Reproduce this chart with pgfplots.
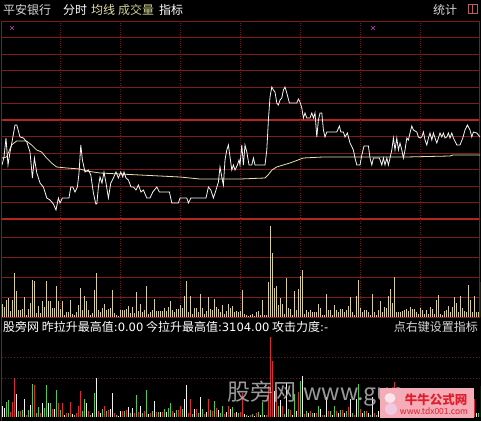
\documentclass[border=0pt]{standalone}
\usepackage{pgfplots}
\pgfplotsset{compat=1.18}
\usepackage{pgfplotstable}
\usepackage{fontspec}
\setmainfont{Noto Sans CJK SC}
\newfontfamily\numfont{DejaVu Sans}

\definecolor{gridred}{RGB}{125,28,28}
\definecolor{griddot}{RGB}{105,26,26}
\definecolor{gridbright}{RGB}{180,36,36}
\definecolor{priceline}{RGB}{245,245,245}
\definecolor{avgline}{RGB}{232,224,170}
\definecolor{volbar}{RGB}{214,206,150}
\definecolor{upred}{RGB}{215,45,45}
\definecolor{downgreen}{RGB}{80,200,80}
\definecolor{flatwhite}{RGB}{240,240,240}
\definecolor{menugrey}{RGB}{215,215,215}
\definecolor{menuyellow}{RGB}{228,225,165}
\definecolor{menukhaki}{RGB}{205,205,145}
\definecolor{crossmag}{RGB}{190,60,190}
\definecolor{wmgrey}{RGB}{180,180,180}
\definecolor{logopink}{RGB}{244,172,182}
\definecolor{logored}{RGB}{225,30,45}
\definecolor{baseline}{RGB}{160,50,100}
\definecolor{iconred}{RGB}{185,95,95}

% minute price, relative to previous close (0 = mid line)
\pgfplotstableread{
m v
0 -45
1 -37
2 -18
3 -45
4 -32
5 -22
6.5 -5
7.4 -5
9 -17
10.7 -18
11.5 -20
12.4 -22
14 -32
15.2 -58
16.2 -38
17.4 -53
19 -63
20.7 -67
22.4 -78
24 -80
25.7 -84
27 -90
28.2 -78
29 -83
30.2 -78
32.4 -78
33.5 -78
34.4 -67
35.4 -67
36.5 -72
37.7 -67
38.5 -53
39.4 -25
40.2 -40
41.5 -52
43.2 -50
44.4 -55
45.7 -73
46.9 -84
47.4 -84
48.2 -67
49 -57
50 -63
51 -52
52 -63
53.2 -78
54.4 -63
55.7 -58
57 -52
58.2 -58
59.4 -52
60.4 -57
61 -52
62 -58
63.2 -60
64.5 -67
65.7 -67
67 -70
68.2 -65
69.5 -72
70.7 -70
72.4 -78
74 -78
75.4 -72
77.4 -67
78.7 -72
83.7 -72
84.9 -83
88.2 -83
89 -78
92.4 -78
93.2 -83
94.4 -78
102 -78
103.2 -67
104.4 -70
105.7 -78
107 -70
108.2 -62
109 -47
109.9 -57
110.7 -65
111.5 -40
112.4 -30
113.2 -25
114 -37
114.9 -50
115.7 -45
116.5 -50
117.7 -45
118.5 -40
119 -45
119.9 -25
120.7 -45
121.5 -25
122.4 -32
123.5 -45
124.9 -45
125.7 -38
126.5 -45
131.5 -45
132.4 -30
133.2 0
134 23
134.9 33
135.7 30
136.5 28
137.4 17
138.2 15
139 20
139.9 22
140.7 30
141.5 33
142.4 27
143.7 17
147.4 17
148.2 21
149 18
149.9 12
150.7 2
151.5 7
152.4 2
154 2
154.9 7
155.7 2
156.5 7
157.4 -17
158.2 0
159 7
159.9 7
160.7 -10
161.5 -17
162.4 -12
167.4 -12
168.7 -6
169.4 -12
170.7 -12
171.5 -17
172.7 -13
174 -23
175.7 -30
176.5 -38
177.4 -45
179 -45
179.9 -35
181 -26
183.2 -26
184 -38
184.9 -45
185.7 -38
188.7 -38
189.9 -45
190.7 -38
191.5 -45
192.4 -38
193.2 -45
194 -38
194.9 -30
195.7 -18
196.5 -30
197.4 -18
198.2 -30
199 -23
199.9 -30
200.7 -38
201.5 -30
202.4 -18
203.2 -20
204 -13
204.9 -6
205.7 -10
207.4 -12
208.2 -17
209 -18
209.9 -17
210.7 -12
211.5 -20
212.4 -25
213.2 -18
214 -13
214.9 -20
215.7 -13
216.5 -18
217.4 -23
218.2 -18
219 -13
219.9 -17
220.7 -13
221.5 -18
222.4 -17
223.2 -13
224 -18
224.9 -13
225.7 -18
227.4 -25
229 -25
230.4 -18
231.5 -10
232.7 -5
234 -10
234.9 -17
235.7 -12
237.4 -13
239 -17
}\pricedata

% running average price
\pgfplotstableread{
m v
0 -38
2.3 -37
4.8 -25
7.3 -21
12.3 -21
14.8 -25
17.3 -30
19.8 -32
22.3 -38
24.8 -43
27.3 -47
32.3 -48
39 -49
42.3 -51
49 -53
59 -54
69 -55
79 -56
89 -57
99 -59
119 -59
131.5 -58
133 -55
135 -50
137.3 -47
140.6 -45
144 -43
148 -40
150.6 -38
160.5 -37
174 -37
202 -37
224 -36
225.5 -35
239 -35
}\avgdata

% per-minute volume; dir: 1 up, -1 down, 0 unchanged
\pgfplotstableread{
m vol dir
0 13 0
1 10 0
2 17 -1
3 19 -1
4 6 1
5 17 1
6 44 1
7 26 0
8 7 -1
9 7 1
10 8 -1
11 20 0
12 2 1
13 8 -1
14 14 0
15 37 -1
16 36 1
17 4 -1
18 11 -1
19 4 1
20 16 0
21 10 -1
22 36 -1
23 16 0
24 16 -1
25 9 1
26 9 0
27 31 -1
28 16 1
29 8 -1
30 16 1
31 2 0
32 5 1
33 5 -1
34 17 1
35 3 0
36 2 -1
37 5 1
38 12 1
39 29 1
40 7 -1
41 21 -1
42 16 0
43 7 1
44 2 -1
45 4 0
46 27 -1
47 44 0
48 7 1
49 5 0
50 9 -1
51 13 1
52 7 -1
53 8 1
54 9 0
55 27 0
56 4 1
57 2 -1
58 1 0
59 7 0
60 7 1
61 7 -1
62 8 1
63 11 0
64 4 -1
65 10 0
66 4 1
67 25 -1
68 6 1
69 13 0
70 5 -1
71 7 1
72 31 -1
73 3 0
74 5 1
75 7 -1
76 18 0
77 6 1
78 6 -1
79 6 0
80 6 1
81 9 -1
82 6 0
83 10 -1
84 16 -1
85 7 1
86 5 0
87 8 -1
88 8 1
89 12 1
90 9 -1
91 21 0
92 36 0
93 5 1
94 21 1
95 3 -1
96 9 0
97 9 1
98 5 -1
99 23 0
100 9 -1
101 3 1
102 6 0
103 20 1
104 8 -1
105 7 1
106 18 -1
107 10 1
108 8 0
109 5 -1
110 12 -1
111 3 1
112 6 0
113 13 1
114 9 0
115 11 -1
116 5 1
117 6 0
118 5 -1
119 6 1
120 27 1
121 3 0
122 2 -1
123 1 0
124 2 1
125 3 -1
126 1 0
127 5 1
128 6 -1
129 2 0
130 17 -1
131 2 0
132 2 1
133 35 1
134 91 1
135 64 1
136 29 0
137 31 1
138 12 -1
139 19 0
140 13 1
141 3 -1
142 39 0
143 9 -1
144 8 1
145 2 0
146 26 -1
147 7 0
148 28 1
149 41 -1
150 47 0
151 3 1
152 7 -1
153 5 0
154 7 1
155 5 -1
156 5 0
157 5 1
158 13 -1
159 9 0
160 2 1
161 2 -1
162 23 0
163 7 1
164 7 -1
165 2 0
166 12 -1
167 7 1
168 5 0
169 8 -1
170 8 1
171 5 0
172 7 -1
173 11 1
174 20 0
175 5 -1
176 2 1
177 21 0
178 37 -1
179 9 1
180 5 0
181 7 -1
182 7 1
183 5 0
184 2 -1
185 23 0
186 5 1
187 2 -1
188 7 0
189 16 1
190 5 -1
191 10 0
192 9 1
193 21 0
194 28 -1
195 14 1
196 40 1
197 5 -1
198 5 0
199 5 1
200 6 -1
201 7 0
202 8 1
203 6 -1
204 10 0
205 8 1
206 8 -1
207 5 0
208 3 1
209 9 -1
210 7 0
211 3 1
212 7 -1
213 3 0
214 10 1
215 8 -1
216 3 0
217 17 -1
218 22 1
219 3 0
220 2 -1
221 6 1
222 7 0
223 11 -1
224 5 1
225 10 0
226 20 -1
227 14 1
228 5 0
229 21 -1
230 9 1
231 6 0
232 5 -1
233 32 1
234 17 0
235 5 -1
236 21 1
237 5 0
238 5 -1
239 35 -1
}\voldata

\pgfplotsset{
  panel/.style={
    scale only axis, width=478pt, xmin=0, xmax=239,
    hide axis, clip=true, anchor=south west,
  },
  vbar/.style={ycomb, no markers, line width=1pt},
}

\begin{document}
\begin{tikzpicture}[every node/.style={inner sep=0pt, font=\fontsize{12}{12}\selectfont}]
\fill[black] (0,0) rectangle (481pt,-421pt);

% horizontal grid of the price and volume panels
\foreach \y in {37.5,54,70.5,87,103.5,136.5,153,169.5,186,202.5,237,257,277,297,317}
  \draw[gridred, line width=0.8pt] (1.5pt,-\y pt) -- (479.5pt,-\y pt);
\draw[gridred, line width=0.9pt] (1.5pt,-21pt) -- (479.5pt,-21pt);
\draw[gridbright, line width=1.6pt] (1.5pt,-120pt) -- (479.5pt,-120pt);
\draw[gridbright, line width=1.6pt] (1.5pt,-219pt) -- (479.5pt,-219pt);
% half-hour separators
\foreach \x in {60,120,180,240,300,360,420}
  \draw[griddot, line width=0.5pt, dash pattern=on 0.8pt off 1.4pt] (\x pt,-21pt) -- (\x pt,-317pt);
% frame
\draw[gridred, line width=1pt] (1.5pt,-21pt) -- (1.5pt,-421pt);
\draw[gridred, line width=1pt] (479.5pt,-21pt) -- (479.5pt,-317pt);
% indicator panel guides
\foreach \y in {357,378}
  \draw[griddot, line width=0.6pt, dash pattern=on 1pt off 2pt] (1.5pt,-\y pt) -- (479.5pt,-\y pt);
\draw[baseline, line width=0.8pt] (1.5pt,-417.5pt) -- (479.5pt,-417.5pt);

% price panel
\begin{axis}[panel, at={(2pt,-219pt)}, height=198pt, ymin=-99, ymax=99]
  \addplot[avgline, line width=0.8pt] table[x=m, y=v] {\avgdata};
  \addplot[priceline, line width=0.8pt] table[x=m, y=v] {\pricedata};
\end{axis}

% volume panel
\begin{axis}[panel, at={(2pt,-317pt)}, height=98pt, ymin=0, ymax=98]
  \addplot[vbar, volbar] table[x=m, y=vol] {\voldata};
\end{axis}

% indicator panel: bars coloured by direction
\begin{axis}[panel, at={(2pt,-417pt)}, height=81pt, ymin=0, ymax=92]
  \addplot[vbar, flatwhite, restrict expr to domain={\thisrow{dir}}{-0.5:0.5}] table[x=m, y=vol] {\voldata};
  \addplot[vbar, upred, restrict expr to domain={\thisrow{dir}}{0.5:1.5}] table[x=m, y=vol] {\voldata};
  \addplot[vbar, downgreen, restrict expr to domain={\thisrow{dir}}{-1.5:-0.5}] table[x=m, y=vol] {\voldata};
\end{axis}

% menu bar
\node[anchor=west, text=menugrey] at (3pt,-10pt) {平安银行};
\node[anchor=west, text=white] at (63pt,-10pt) {分时};
\node[anchor=west, text=menuyellow] at (91pt,-10pt) {均线};
\node[anchor=west, text=menukhaki] at (118pt,-10pt) {成交量};
\node[anchor=west, text=white] at (159pt,-10pt) {指标};
\node[anchor=west, text=menugrey] at (433pt,-10pt) {统计};
\draw[iconred, line width=0.7pt] (468pt,-4.5pt) rectangle (477pt,-13.5pt);
\draw[iconred, line width=0.7pt] (472.5pt,-4.5pt) -- (472.5pt,-13.5pt);

% small markers on the price panel
\foreach \x in {12,373}{
  \draw[crossmag, line width=0.7pt] (\x pt-1.8pt,-26.2pt) -- (\x pt+1.8pt,-29.8pt);
  \draw[crossmag, line width=0.7pt] (\x pt-1.8pt,-29.8pt) -- (\x pt+1.8pt,-26.2pt);
}

% indicator header
\node[anchor=west, text=white] at (3pt,-327pt) {股旁网 昨拉升最高值{\numfont\fontsize{11.5}{12}\selectfont:0.00} 今拉升最高值{\numfont\fontsize{11.5}{12}\selectfont:3104.00} 攻击力度{\numfont\fontsize{11.5}{12}\selectfont:-}};
\node[anchor=east, text=menugrey] at (478pt,-327pt) {点右键设置指标};

% watermarks
\node[anchor=west, text=wmgrey, opacity=0.85, font=\fontsize{23}{23}\selectfont] at (227pt,-394pt) {股旁网\hspace{7pt}www.gup};
\fill[logopink] (380pt,-388pt) rectangle (474pt,-418pt);
\fill[color={rgb,255:red,252;green,228;blue,236}] (390pt,-398pt) ellipse (5.5pt and 5pt);
\fill[color={rgb,255:red,240;green,200;blue,225}] (391pt,-409pt) ellipse (6pt and 6pt);
\node[text=logored, font=\fontsize{12.5}{12.5}\selectfont\bfseries] at (436pt,-400pt) {牛牛公式网};
\node[text=logored, font=\fontsize{8.5}{8.5}\selectfont] at (434pt,-411.5pt) {www.tdx001.com};

\pgfresetboundingbox
\path (0,0) rectangle (481pt,-421pt);
\end{tikzpicture}
\end{document}
